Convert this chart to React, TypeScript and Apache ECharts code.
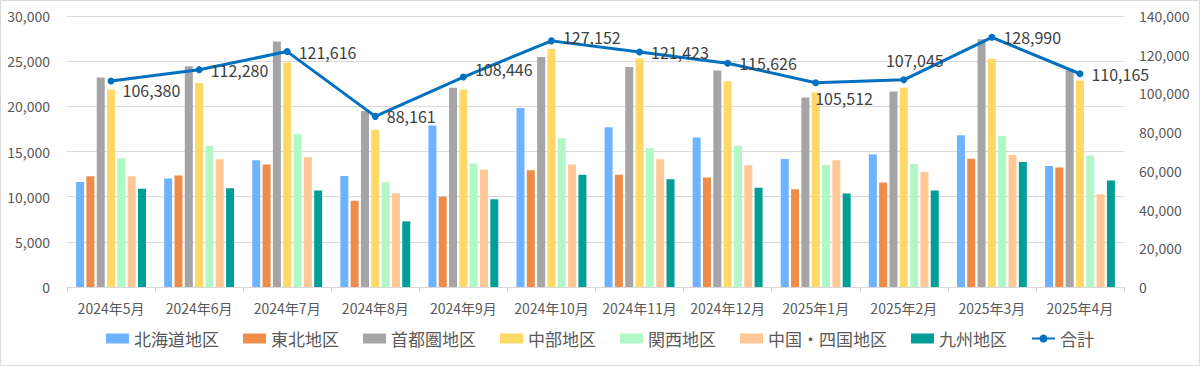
import React, { useEffect, useRef } from "react";
import * as echarts from "echarts";

const categories = [
  "2024年5月", "2024年6月", "2024年7月", "2024年8月", "2024年9月", "2024年10月",
  "2024年11月", "2024年12月", "2025年1月", "2025年2月", "2025年3月", "2025年4月",
];

const regionNames = ["北海道地区", "東北地区", "首都圏地区", "中部地区", "関西地区", "中国・四国地区", "九州地区"];
const totalName = "合計";

const hokkaido = [11620, 12000, 14030, 12290, 17870, 19820, 17680, 16540, 14170, 14660, 16790, 13400];
const tohoku = [12250, 12330, 13550, 9560, 10000, 12920, 12440, 12110, 10820, 11560, 14210, 13220];
const shutoken = [23180, 24430, 27170, 19480, 22070, 25460, 24360, 23960, 20970, 21630, 27420, 24000];
const chubu = [21850, 22580, 24840, 17420, 21850, 26350, 25320, 22770, 21550, 22070, 25280, 22850];
const kansai = [14250, 15650, 16940, 11590, 13660, 16460, 15350, 15650, 13500, 13620, 16720, 14550];
const chugokuShikoku = [12250, 14140, 14360, 10370, 13000, 13550, 14140, 13470, 14030, 12730, 14610, 10260];
const kyushu = [10890, 10930, 10670, 7270, 9710, 12440, 11920, 11000, 10340, 10670, 13840, 11780];
const total = [106380, 112280, 121616, 88161, 108446, 127152, 121423, 115626, 105512, 107045, 128990, 110165];

const leftTicks = { min: 0, max: 30000, interval: 5000 };
const rightTicks = { min: 0, max: 140000, interval: 20000 };

const regionValues = [hokkaido, tohoku, shutoken, chubu, kansai, chugokuShikoku, kyushu];
const regionColors = ["#6DB3FF", "#EF8C4A", "#A5A5A5", "#FFD966", "#B3F7C6", "#FFC896", "#009E96"];
const totalColor = "#0070C0";

// per-point label placement tweaks (offset relative to default position)
const labelTweaks: Record<number, any> = {
  0: { position: "right", offset: [0, 9] },
  4: { position: "right", offset: [0, -8] },
  5: { position: "right", offset: [0, -4] },
  8: { position: "right", offset: [-12, 15] },
  9: { position: "top", offset: [11, 0] },
};

const fmt = (v: number) => String(v).replace(/\B(?=(\d{3})+(?!\d))/g, ",");
const FONT = "'Noto Sans CJK JP', 'Noto Sans', sans-serif";

export default function App() {
  const ref = useRef<HTMLDivElement>(null);
  useEffect(() => {
    if (!ref.current) return;
    const chart = echarts.init(ref.current, undefined, { renderer: "svg" });
    const barSeries = regionNames.map((name, i) => ({
      name,
      type: "bar",
      yAxisIndex: 0,
      data: regionValues[i],
      barWidth: 8,
      barGap: "29%",
      itemStyle: { color: regionColors[i] },
    }));
    chart.setOption({
      animation: false,
      textStyle: { fontFamily: FONT },
      graphic: [
        {
          type: "rect",
          shape: { x: 0.5, y: 0.5, width: 1199, height: 365 },
          style: { fill: "none", stroke: "#D9D9D9", lineWidth: 1 },
          silent: true,
        },
      ],
      grid: { left: 67, right: 76, top: 16, bottom: 79 },
      legend: {
        bottom: 14,
        left: "center",
        itemWidth: 23,
        itemHeight: 10,
        itemGap: 24,
        textStyle: { fontSize: 17, color: "#595959", fontFamily: FONT },
        data: [
          ...regionNames.map((n) => ({ name: n, icon: "rect" })),
          { name: totalName },
        ],
      },
      xAxis: {
        type: "category",
        data: categories,
        axisLine: { lineStyle: { color: "#D9D9D9" } },
        axisTick: { show: true, alignWithLabel: false, interval: 0, length: 5, lineStyle: { color: "#D9D9D9" } },
        axisLabel: { color: "#595959", fontSize: 14, margin: 14, interval: 0, fontFamily: FONT },
      },
      yAxis: [
        {
          type: "value",
          ...leftTicks,
          axisLine: { show: false },
          axisTick: { show: false },
          splitLine: { lineStyle: { color: "#D9D9D9" } },
          axisLabel: { color: "#595959", fontSize: 14, margin: 17, formatter: (v: number) => fmt(v), fontFamily: FONT },
        },
        {
          type: "value",
          ...rightTicks,
          position: "right",
          axisLine: { show: false },
          axisTick: { show: false },
          splitLine: { show: false },
          axisLabel: { color: "#595959", fontSize: 14, margin: 15, formatter: (v: number) => fmt(v), fontFamily: FONT },
        },
      ],
      series: [
        ...barSeries,
        {
          name: totalName,
          type: "line",
          yAxisIndex: 1,
          data: total.map((v, i) => {
            const t = labelTweaks[i];
            return t ? { value: v, label: t } : v;
          }),
          symbol: "circle",
          symbolSize: 7,
          lineStyle: { color: totalColor, width: 3 },
          itemStyle: { color: totalColor },
          z: 10,
          label: {
            show: true,
            position: "right",
            distance: 8,
            color: "#404040",
            fontSize: 16,
            fontFamily: FONT,
            formatter: (p: any) => fmt(p.value),
          },
        },
      ],
    });
    return () => chart.dispose();
  }, []);
  return (
    <div
      ref={ref}
      style={{ position: "fixed", left: 0, top: 0, width: 1200, height: 366, background: "#fff" }}
    />
  );
}
